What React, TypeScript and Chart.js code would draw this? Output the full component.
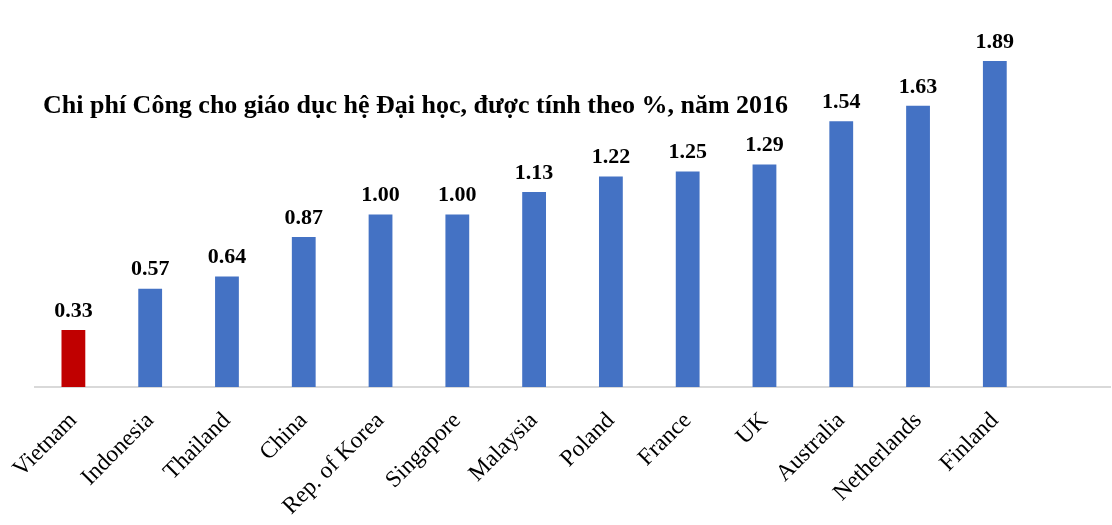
import React, { useEffect, useRef } from "react";
import { Chart, registerables } from "chart.js";

Chart.register(...registerables);

const categories = [
  "Vietnam", "Indonesia", "Thailand", "China", "Rep. of Korea", "Singapore",
  "Malaysia", "Poland", "France", "UK", "Australia", "Netherlands", "Finland", "",
];
const values: (number | null)[] = [0.33, 0.57, 0.64, 0.87, 1.0, 1.0, 1.13, 1.22, 1.25, 1.29, 1.54, 1.63, 1.89, null];
const barColors = [
  "#C00000", "#4472C4", "#4472C4", "#4472C4", "#4472C4", "#4472C4", "#4472C4",
  "#4472C4", "#4472C4", "#4472C4", "#4472C4", "#4472C4", "#4472C4", "#4472C4",
];
const titleText = "Chi phí Công cho giáo dục hệ Đại học, được tính theo %, năm 2016";

const FONT = "'Liberation Serif', 'Times New Roman', serif";

const labelPlugin = {
  id: "valueLabels",
  afterDatasetsDraw(chart: any) {
    const ctx = chart.ctx;
    const meta = chart.getDatasetMeta(0);
    ctx.save();
    ctx.font = `bold 22px ${FONT}`;
    ctx.fillStyle = "#000";
    ctx.textAlign = "center";
    ctx.textBaseline = "bottom";
    meta.data.forEach((bar: any, i: number) => {
      const v = values[i];
      if (v == null) return;
      ctx.fillText(v.toFixed(2), bar.x, bar.y - 8);
    });
    ctx.font = `bold 26px ${FONT}`;
    ctx.textAlign = "left";
    ctx.textBaseline = "middle";
    ctx.fillText(titleText, chart.chartArea.left + 8, 106);
    ctx.restore();
  },
};

export default function App() {
  const ref = useRef<HTMLCanvasElement>(null);
  useEffect(() => {
    if (!ref.current) return;
    const chart = new Chart(ref.current, {
      type: "bar",
      data: {
        labels: categories,
        datasets: [
          {
            data: values,
            backgroundColor: barColors,
            categoryPercentage: 1,
            barPercentage: 0.31,
          },
        ],
      },
      options: {
        animation: false,
        responsive: false,
        maintainAspectRatio: false,
        layout: { padding: { left: 35, right: 2, top: 42, bottom: 0 } },
        plugins: { legend: { display: false }, tooltip: { enabled: false }, title: { display: false } },
        scales: {
          x: {
            grid: { display: false },
            border: { display: true, color: "#d9d9d9", width: 2 },
            ticks: {
              minRotation: 45,
              maxRotation: 45,
              autoSkip: false,
              color: "#000",
              font: { family: FONT, size: 23.5 },
              padding: 12,
            },
            afterFit: (s: any) => {
              s.height = 138;
            },
          },
          y: { display: false, min: 0, max: 2.0 },
        },
      },
      plugins: [labelPlugin],
    });
    return () => chart.destroy();
  }, []);
  return (
    <div style={{ position: "fixed", left: 0, top: 0, width: 1112, height: 525, background: "#fff" }}>
      <canvas ref={ref} width={1112} height={525} style={{ display: "block" }} />
    </div>
  );
}
